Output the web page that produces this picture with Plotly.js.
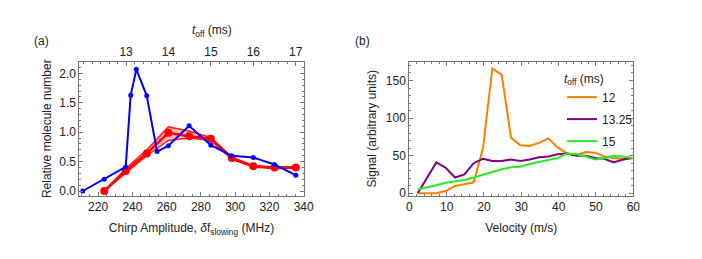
<!DOCTYPE html>
<html>
<head>
<meta charset="utf-8">
<script src="https://cdn.plot.ly/plotly-3.0.1.min.js"></script>
<style>html,body{margin:0;padding:0;background:#fff;}#chart{width:702px;height:259px;}</style>
</head>
<body>
<div id="chart"></div>
<script>
// Panel (a): chirp amplitude scan
const chirpBlue = [211, 223.6, 236.1, 239.0, 242.3, 248.4, 254.4, 261.0, 273.1, 285.8, 298.0, 310.6, 322.9, 335.4];
const numBlue   = [0.0, 0.20, 0.41, 1.63, 2.07, 1.62, 0.67, 0.77, 1.11, 0.78, 0.60, 0.57, 0.45, 0.27];
const chirpRed  = [223.6, 236.1, 248.4, 261.0, 273.1, 285.8, 298.0, 310.6, 322.9, 335.4];
const numRed    = [0.00, 0.34, 0.64, 0.99, 0.93, 0.89, 0.56, 0.42, 0.40, 0.40];
const numRedHi  = [0.00, 0.38, 0.70, 1.09, 1.02, 0.91, 0.58, 0.43, 0.41, 0.41];
const numRedLo  = [0.00, 0.31, 0.60, 0.86, 0.90, 0.86, 0.54, 0.41, 0.38, 0.39];
const toffTicks = [13, 14, 15, 16, 17];

// Panel (b): velocity distributions
const velocity = [2.25, 4.75, 7.25, 9.75, 12.25, 14.75, 17.25, 19.75, 22.25, 24.75, 27.25, 29.75,
                  32.25, 34.75, 37.25, 39.75, 42.25, 44.75, 47.25, 49.75, 52.25, 54.75, 57.25, 59.75];
const sig12   = [0, 0, 0, 3, 9.7, 12, 14.6, 60, 166, 157.5, 74, 64, 63, 67, 73, 61, 53, 51, 55, 54, 49, 47, 46, 47];
const sig1325 = [0, 20, 41, 34, 21, 25, 40, 46, 43, 43, 45, 43, 45, 48, 49, 52, 53, 50, 50, 47, 46, 41, 45, 47];
const sig15   = [5, 7.5, 10.6, 14, 15.5, 17.7, 21, 25, 28, 32, 34.6, 35.4, 39, 42, 44, 47, 53, 52, 49, 45, 47, 50, 49, 47];
const legendNames = ['12', '13.25', '15'];

const FONT = 'Liberation Sans, Arial, sans-serif';
const traces = [
  {x: chirpRed, y: numRedLo, xaxis: 'x', yaxis: 'y', mode: 'lines', line: {color: '#ff2020', width: 1.5}, showlegend: false, hoverinfo: 'skip'},
  {x: chirpRed, y: numRedHi, xaxis: 'x', yaxis: 'y', mode: 'lines', fill: 'tonexty', fillcolor: 'rgba(255,40,40,0.35)', line: {color: '#ff2020', width: 1.5}, showlegend: false},
  {x: chirpRed, y: numRed, xaxis: 'x', yaxis: 'y', mode: 'lines+markers', line: {color: '#ff0000', width: 2.5}, marker: {color: '#ff0000', size: 8}, showlegend: false},
  {x: chirpBlue, y: numBlue, xaxis: 'x', yaxis: 'y', mode: 'lines+markers', line: {color: '#0000ff', width: 2}, marker: {color: '#0000ff', size: 5}, showlegend: false},
  {x: [], y: [], xaxis: 'x2', yaxis: 'y', mode: 'lines', showlegend: false},
  {x: velocity, y: sig12, xaxis: 'x3', yaxis: 'y3', mode: 'lines', name: legendNames[0], legendgroup: 'a', line: {color: '#ff8000', width: 2}},
  {x: velocity, y: sig1325, xaxis: 'x3', yaxis: 'y3', mode: 'lines', name: legendNames[1], legendgroup: 'b', line: {color: '#800080', width: 2}},
  {x: velocity, y: sig15, xaxis: 'x3', yaxis: 'y3', mode: 'lines', name: legendNames[2], legendgroup: 'c', line: {color: '#22ee22', width: 2}}
];

const LC = '#777';
const frame = {showline: true, linecolor: LC, linewidth: 1, ticks: 'inside', ticklen: 4, tickcolor: LC,
  showgrid: false, zeroline: false, tickfont: {family: FONT, size: 12, color: '#222'}};
const dom1 = [79.3/702, 303.7/702], dom2 = [409.3/702, 633.3/702];
const ydom = [(259-195.7)/259, (259-61.7)/259];
const tfont = {family: FONT, size: 12, color: '#222'};

const layout = {
  width: 702, height: 259,
  margin: {l: 0, r: 0, t: 0, b: 0},
  paper_bgcolor: '#fff', plot_bgcolor: '#fff',
  font: tfont,
  xaxis: Object.assign({}, frame, {domain: dom1, anchor: 'y', range: [209, 340], dtick: 20, mirror: true,
    minor: {ticks: 'inside', ticklen: 2, dtick: 5, tickcolor: LC},
    title: {text: 'Chirp Amplitude, <i>δ</i>f<sub>slowing</sub> (MHz)', font: tfont, standoff: 10}}),
  xaxis2: Object.assign({}, frame, {domain: dom1, anchor: 'y', overlaying: 'x', side: 'top', range: [11.898, 17.188],
    tickvals: toffTicks, minor: {ticks: 'inside', ticklen: 2, dtick: 0.2, tickcolor: LC}}),
  yaxis: Object.assign({}, frame, {domain: ydom, anchor: 'x', range: [-0.08, 2.2], dtick: 0.5, tickformat: '.1f', mirror: 'ticks',
    minor: {ticks: 'inside', ticklen: 2, dtick: 0.1, tickcolor: LC},
    title: {text: 'Relative molecule number', font: tfont, standoff: 5}}),
  xaxis3: Object.assign({}, frame, {domain: dom2, anchor: 'y3', range: [0, 60], dtick: 10, mirror: 'ticks',
    minor: {ticks: 'inside', ticklen: 2, dtick: 2, tickcolor: LC},
    title: {text: 'Velocity (m/s)', font: tfont, standoff: 10}}),
  yaxis3: Object.assign({}, frame, {domain: ydom, anchor: 'x3', range: [-3.2, 175], dtick: 50, mirror: 'ticks',
    minor: {ticks: 'inside', ticklen: 2, dtick: 10, tickcolor: LC},
    title: {text: 'Signal (arbitrary units)', font: tfont, standoff: 6}}),
  showlegend: true,
  legend: {x: 562/702, y: (259-67)/259, xanchor: 'left', yanchor: 'top', bgcolor: 'rgba(0,0,0,0)',
    traceorder: 'grouped', tracegroupgap: 3,
    font: tfont,
    title: {text: '<i>t</i><sub>off</sub> (ms)', font: tfont}},
  annotations: [
    {text: '<i>t</i><sub>off</sub> (ms)', xref: 'paper', yref: 'paper', x: 190/702, y: (259-31)/259, yanchor: 'middle', showarrow: false, font: tfont},
    {text: '(a)', xref: 'paper', yref: 'paper', x: 32/702, y: (259-41)/259, yanchor: 'middle', showarrow: false, font: tfont},
    {text: '(b)', xref: 'paper', yref: 'paper', x: 362/702, y: (259-41)/259, yanchor: 'middle', showarrow: false, font: tfont}
  ]
};

Plotly.newPlot('chart', traces, layout, {displayModeBar: false, staticPlot: true});
</script>
</body>
</html>
